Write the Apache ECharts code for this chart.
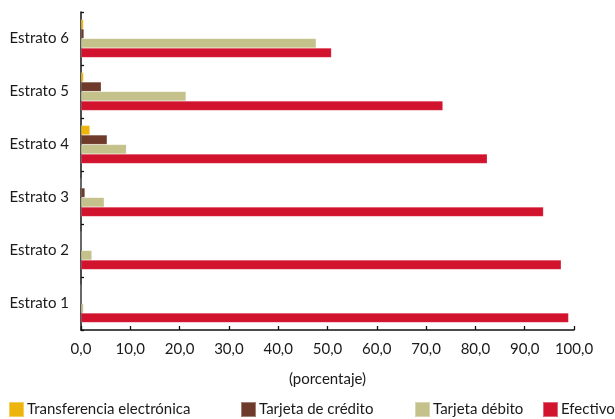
<!DOCTYPE html>
<html>
<head>
<meta charset="utf-8">
<script src="https://cdn.jsdelivr.net/npm/echarts@6/dist/echarts.min.js"></script>
<style>
  html, body { margin: 0; padding: 0; background: #fff; }
  #chart { width: 615px; height: 419px; }
</style>
</head>
<body>
<div id="chart"></div>
<script>
// Medio de pago por estrato socioeconómico (porcentaje)
const estratos = ['Estrato 1', 'Estrato 2', 'Estrato 3', 'Estrato 4', 'Estrato 5', 'Estrato 6'];
const transferencia = [0.0, 0.0, 0.0, 1.8, 0.5, 0.5];
const credito = [0.0, 0.0, 0.8, 5.3, 4.1, 0.6];
const debito = [0.5, 2.2, 4.7, 9.2, 21.3, 47.7];
const efectivo = [98.9, 97.4, 93.8, 82.4, 73.4, 50.8];
const xTickLabels = ['0,0', '10,0', '20,0', '30,0', '40,0', '50,0', '60,0', '70,0', '80,0', '90,0', '100,0'];

const seriesNames = ['Transferencia electrónica', 'Tarjeta de crédito', 'Tarjeta débito', 'Efectivo'];
const seriesData = [transferencia, credito, debito, efectivo];
const colors = ['#EDB40C', '#6E3B2A', '#C4C18B', '#D2132E'];
const legendLeft = [8, 240, 414, 542];

const FONT = 'Lato';
const TEXT = '#1a1a1a';

const chart = echarts.init(document.getElementById('chart'), null, { renderer: 'canvas' });

chart.setOption({
  animation: false,
  textStyle: { fontFamily: FONT },
  grid: { left: 81, right: 41, top: 12, bottom: 89, containLabel: false },
  xAxis: {
    type: 'value',
    min: 0,
    max: 100,
    interval: 10,
    name: '(porcentaje)',
    nameLocation: 'middle',
    nameGap: 42,
    nameTextStyle: { fontFamily: FONT, fontSize: 15, color: TEXT },
    axisLine: { show: true, lineStyle: { color: '#111', width: 1.5 } },
    axisTick: { show: true, inside: true, length: 4, lineStyle: { color: '#111', width: 1.3 } },
    splitLine: { show: false },
    axisLabel: {
      fontFamily: FONT, fontSize: 15, color: TEXT, margin: 12,
      formatter: (v) => xTickLabels[Math.round(v / 10)]
    }
  },
  yAxis: {
    type: 'category',
    data: estratos,
    axisLine: { show: true, lineStyle: { color: '#111', width: 1.5 } },
    axisTick: { show: true, inside: true, length: 3, lineStyle: { color: '#111', width: 1.3 } },
    axisLabel: { fontFamily: FONT, fontSize: 15, color: TEXT, margin: 12 }
  },
  legend: seriesNames.map((name, i) => ({
    data: [name],
    left: legendLeft[i],
    top: 401,
    itemWidth: 15,
    itemHeight: 15,
    itemGap: 0,
    padding: 0,
    icon: 'rect',
    selectedMode: false,
    textStyle: { fontFamily: FONT, fontSize: 15, color: TEXT, padding: [0, 0, 0, -2] }
  })),
  series: seriesNames.map((name, i) => ({
    name,
    type: 'bar',
    data: seriesData[i],
    barGap: '0%',
    barCategoryGap: '28%',
    itemStyle: { color: colors[i], borderColor: 'rgba(255,255,255,0.35)', borderWidth: 0.5 }
  }))
});
</script>
</body>
</html>
